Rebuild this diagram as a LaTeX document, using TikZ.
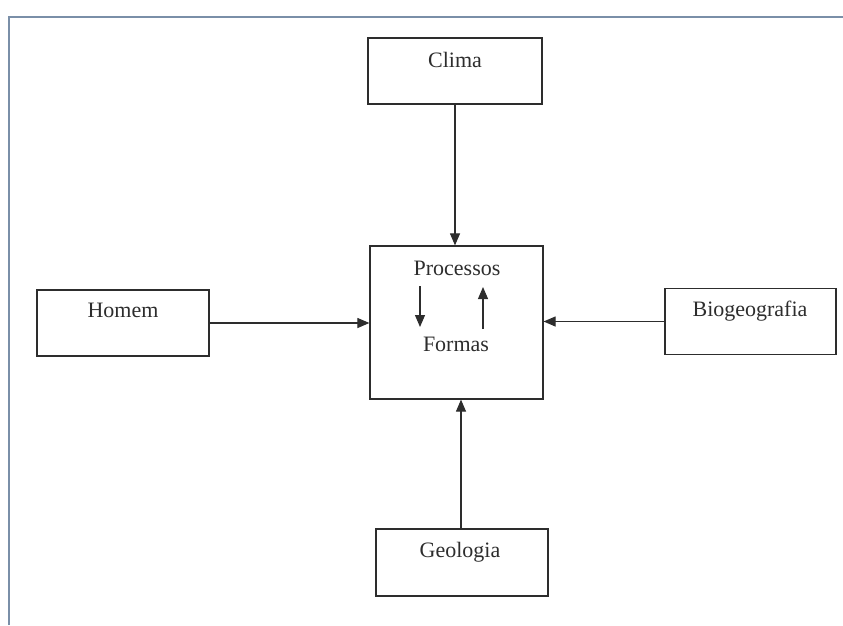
\documentclass[tikz,border=0pt]{standalone}
\usepackage{fontspec}
\setmainfont{Liberation Serif}
\usepackage{tikz}
\usetikzlibrary{arrows.meta, calc}

\definecolor{framecol}{RGB}{122,143,168}
\definecolor{linecol}{RGB}{45,45,45}

\tikzset{
  box/.style={draw=linecol, line width=1.2pt, minimum width=170pt, minimum height=66pt, inner sep=0pt},
  lbl/.style={anchor=base, inner sep=0pt, font=\fontsize{22}{26}\selectfont, text=linecol},
  link/.style={draw=linecol, line width=1.1pt, -{Triangle[length=12pt, width=10pt]}}
}

\begin{document}
\begin{tikzpicture}[x=1pt, y=-1pt]
\useasboundingbox (0,0) rectangle (843,625);

% Frame
\draw[framecol, line width=2.2pt] (9,625) -- (9,17) -- (843,17);

% Boxes
\node[box, minimum width=174pt] (clima) at (455,71) {};
\node[box, minimum width=173pt, minimum height=153pt] (centre) at (456.5,322.5) {};
\node[box, minimum width=172pt] (homem) at (123,323) {};
\node[box, minimum width=171pt] (bio) at (750.5,321.5) {};
\node[box, minimum width=172pt, minimum height=67pt] (geo) at (462,562.5) {};

% Labels
\node[lbl] (climaT) at (455,67) {Clima};
\node[lbl] (homemT) at (123,317) {Homem};
\node[lbl] (bioT) at (750,316) {Biogeografia};
\node[lbl] (geoT) at (460,557) {Geologia};
\node[lbl] (procT) at (457,275) {Processos};
\node[lbl] (formT) at (456,351) {Formas};

% Inner cycle
\coordinate (down1) at (420,286);
\coordinate (down2) at (420,327);
\coordinate (up1) at (483,329);
\coordinate (up2) at (483,287);
\draw[link] (down1) -- (down2);
\draw[link] (up1) -- (up2);

% Arrows into the centre
\draw[link] (clima.south -| 455,0) -- (centre.north -| 455,0);
\draw[link] (homem.east) -- (homem.east -| centre.west);
\draw[link] (bio.west) -- (bio.west -| centre.east);
\draw[link] (geo.north -| 461,0) -- (centre.south -| 461,0);

\end{tikzpicture}
\end{document}
